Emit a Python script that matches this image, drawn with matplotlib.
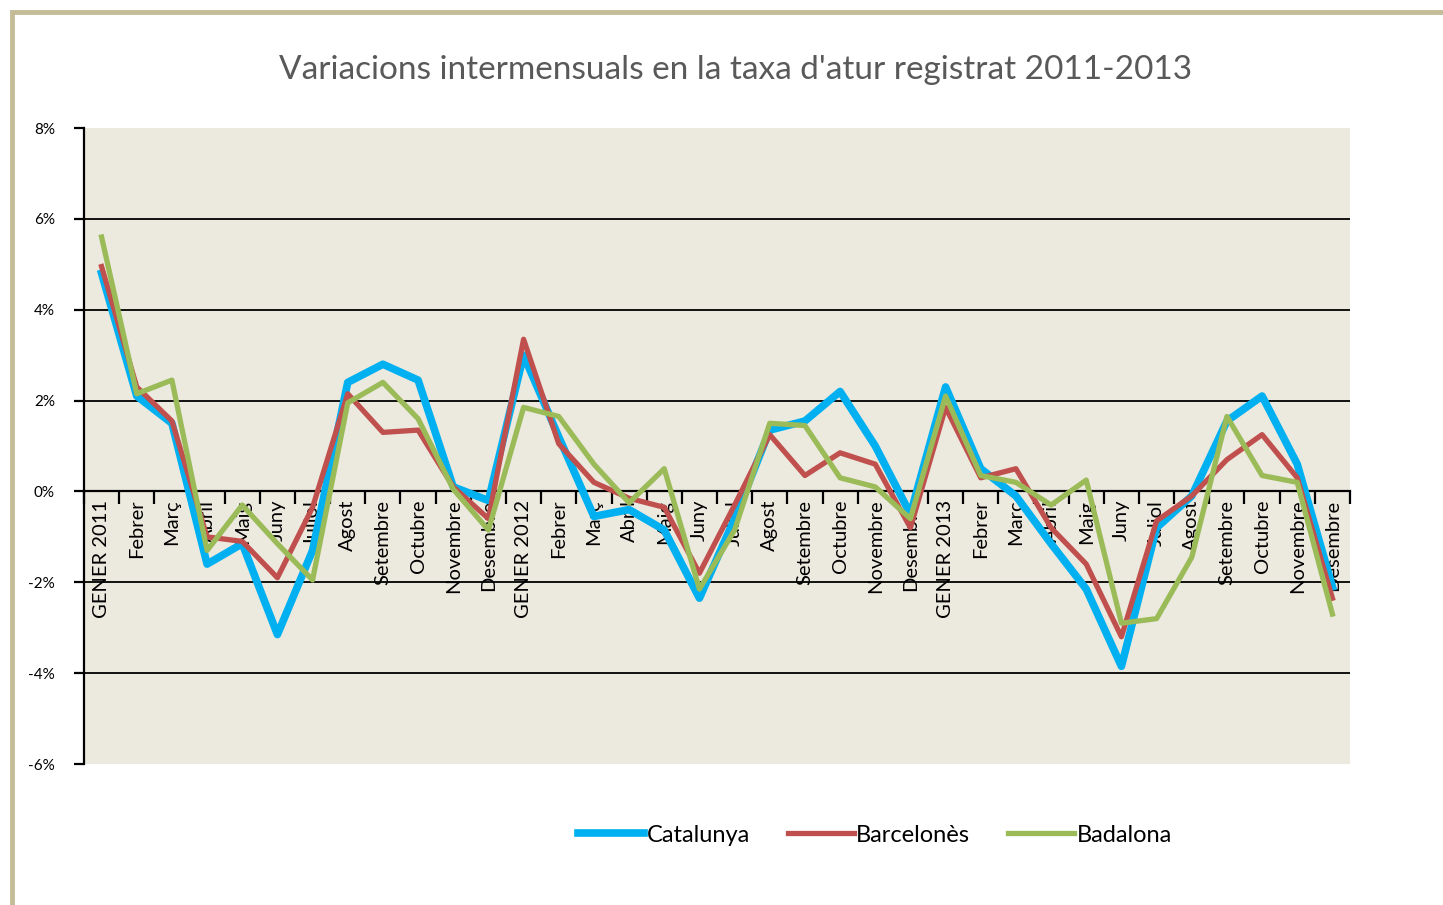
import matplotlib.pyplot as plt
import numpy as np
from matplotlib.patches import Rectangle

plt.rcParams['font.family'] = ['Lato', 'DejaVu Sans']

months = ["GENER 2011", "Febrer", "Març", "Abril", "Maig", "Juny", "Juliol",
          "Agost", "Setembre", "Octubre", "Novembre", "Desembre",
          "GENER 2012", "Febrer", "Març", "Abril", "Maig", "Juny", "Juliol",
          "Agost", "Setembre", "Octubre", "Novembre", "Desembre",
          "GENER 2013", "Febrer", "Març", "Abril", "Maig", "Juny", "Juliol",
          "Agost", "Setembre", "Octubre", "Novembre", "Desembre"]

catalunya = [4.8, 2.1, 1.5, -1.6, -1.15, -3.15, -1.3, 2.4, 2.8, 2.45, 0.1, -0.2,
             3.0, 1.2, -0.55, -0.4, -0.85, -2.35, -0.6, 1.35, 1.55, 2.2, 1.0, -0.5,
             2.3, 0.5, -0.1, -1.15, -2.15, -3.85, -0.8, -0.1, 1.55, 2.1, 0.6, -2.1]
barcelones = [4.95, 2.3, 1.55, -1.0, -1.1, -1.9, -0.35, 2.15, 1.3, 1.35, 0.1, -0.6,
              3.35, 1.05, 0.2, -0.15, -0.35, -1.8, -0.3, 1.25, 0.35, 0.85, 0.6, -0.8,
              1.85, 0.3, 0.5, -0.8, -1.6, -3.2, -0.65, -0.1, 0.7, 1.25, 0.3, -2.35]
badalona = [5.6, 2.15, 2.45, -1.3, -0.3, -1.15, -1.95, 1.95, 2.4, 1.6, 0.05, -0.85,
            1.85, 1.65, 0.6, -0.25, 0.5, -2.15, -0.85, 1.5, 1.45, 0.3, 0.1, -0.6,
            2.1, 0.35, 0.2, -0.3, 0.25, -2.9, -2.8, -1.45, 1.65, 0.35, 0.2, -2.7]

fig = plt.figure(figsize=(14.43, 9.05), dpi=100)
# outer chart frame (only top and left edges visible)
fig.patches.append(Rectangle((12 / 1443, -0.1), 1.2, 1 - 12 / 905 + 0.1,
                             transform=fig.transFigure, fill=False,
                             edgecolor='#C4BC97', linewidth=3.5))

ax = fig.add_axes([84 / 1443, 1 - 764 / 905, (1350 - 84) / 1443, (764 - 128) / 905])
ax.set_facecolor('#ECE9DF')

x = np.arange(len(months))
ax.plot(x, catalunya, color='#00B0F0', linewidth=5.5, label='Catalunya',
        solid_joinstyle='round', zorder=3)
ax.plot(x, barcelones, color='#C0504D', linewidth=3.8, label='Barcelonès',
        solid_joinstyle='round', zorder=4)
ax.plot(x, badalona, color='#9BBB59', linewidth=3.8, label='Badalona',
        solid_joinstyle='round', zorder=5)

ax.set_xlim(-0.5, len(months) - 0.5)
ax.set_ylim(-6, 8)
for g in [-4, -2, 2, 4, 6]:
    ax.axhline(g, color='black', linewidth=1.3, zorder=1)

ax.spines['top'].set_visible(False)
ax.spines['right'].set_visible(False)
ax.spines['bottom'].set_position(('data', 0))
ax.spines['bottom'].set_linewidth(1.6)
ax.spines['left'].set_linewidth(1.6)

ax.set_xticks(np.arange(len(months) + 1) - 0.5)
ax.set_xticklabels([])
ax.tick_params(axis='x', which='major', length=9, width=1.6, direction='out')
ax.set_xticks(x, minor=True)
ax.set_xticklabels(months, minor=True, rotation=90, fontsize=14.5, va='top')
ax.tick_params(axis='x', which='minor', length=0, pad=6)

ax.set_yticks(np.arange(-6, 9, 2))
ax.set_yticklabels([f"{v}%" for v in range(-6, 9, 2)], fontsize=11)
ax.tick_params(axis='y', length=7, width=1.6, pad=14)

fig.text(0.51, 1 - 70 / 905, "Variacions intermensuals en la taxa d'atur registrat 2011-2013",
         ha='center', va='center', fontsize=24, color='#595959')

fig.legend(loc='center', bbox_to_anchor=(875 / 1443, 1 - 835 / 905), ncol=3,
           frameon=False, fontsize=17, handlelength=2.8, handletextpad=0.1,
           columnspacing=1.6)

fig.savefig('out.png', dpi=100)
